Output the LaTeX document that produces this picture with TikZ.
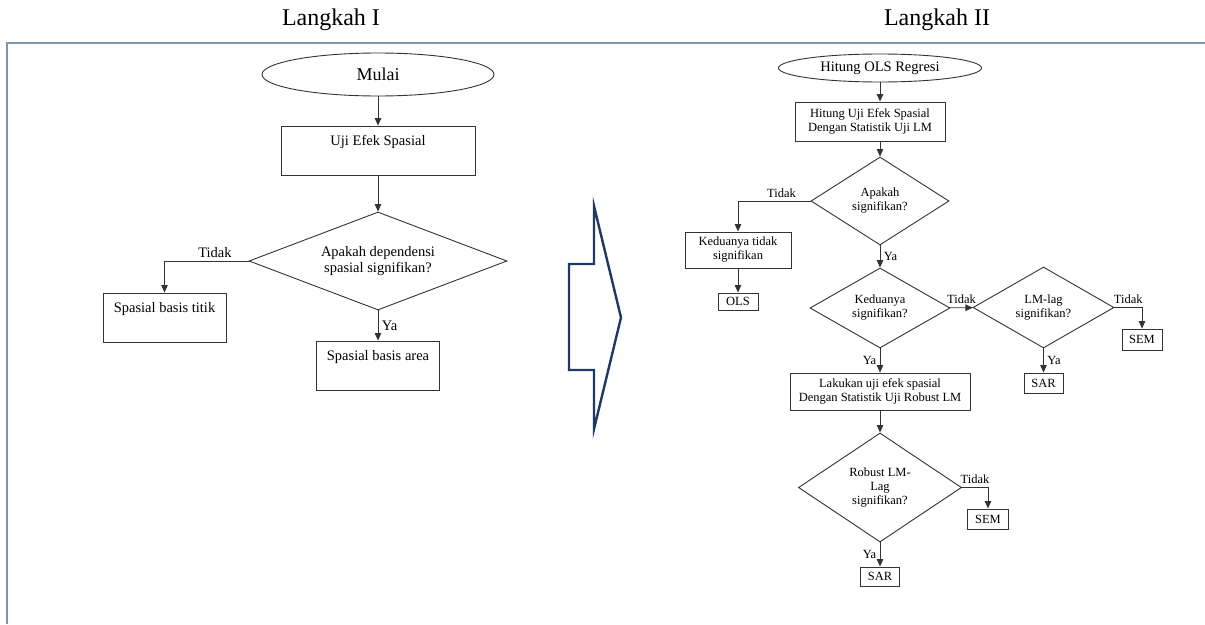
\documentclass[tikz,border=0pt]{standalone}
\usepackage{fontspec}
\setmainfont{Liberation Serif}
\usetikzlibrary{shapes.geometric,arrows.meta}
\definecolor{framegray}{RGB}{132,148,172}
\definecolor{arrownavy}{RGB}{31,56,100}

\begin{document}
\begin{tikzpicture}[x=1pt,y=-1pt]
    \tikzstyle{every node}=[font=\fontsize{12.5}{14}\selectfont]
    \tikzstyle{line}=[draw=black!80,line width=0.9pt]
    \tikzstyle{flow}=[line,-{Triangle[length=7.5pt,width=6.5pt]}]
    \tikzstyle{start}=[line,ellipse,inner sep=0pt]
    \tikzstyle{proc}=[line,rectangle,inner sep=0pt,align=center]
    \tikzstyle{decision}=[line,diamond,inner sep=0pt,align=center]
    \tikzstyle{big}=[font=\fontsize{14.5}{16.5}\selectfont]
    \tikzstyle{tallbox}=[proc,big,text height=19pt,text depth=30pt]
    \tikzstyle{heading}=[font=\fontsize{24}{28}\selectfont]

    \useasboundingbox (0,0) rectangle (1205,624);

    \node[heading] at (331,20) (head1) {Langkah I};
    \node[heading] at (937,20) (head2) {Langkah II};
    \draw[framegray,line width=1.5pt] (7,624) -- (7,43) -- (1205,43);

    % Langkah I
    \node[start,minimum width=232pt,minimum height=43pt,font=\fontsize{18}{20}\selectfont] at (378,74.5) (mulai) {Mulai};
    \node[tallbox,minimum width=194pt] at (378,150.5) (ujiefek) {Uji Efek Spasial};
    \node[decision,big,minimum width=258pt,minimum height=98pt,shape aspect=2.63] at (378,261) (depL) {Apakah dependensi\\spasial signifikan?};
    \node[tallbox,minimum width=123pt] at (164.5,317.5) (titik) {Spasial basis titik};
    \node[tallbox,minimum width=123pt] at (378,365.5) (area) {Spasial basis area};

    \draw[flow] (mulai) -- (ujiefek);
    \draw[flow] (ujiefek) -- (depL);
    \draw[flow] (depL.west) -| (titik.north) node[pos=0.2,above,big] {Tidak};
    \draw[flow] (depL) -- (area) node[midway,right,big] {Ya};

    % panah besar
    \draw[arrownavy,line width=2.4pt,line join=miter] (594,206) -- (594,264) -- (569,264) -- (569,370) -- (594,370) -- (594,429) -- (621,317.5) -- cycle;

    % Langkah II
    \node[start,minimum width=203pt,minimum height=28pt,font=\fontsize{14.5}{16}\selectfont] at (880,68) (olsreg) {Hitung OLS Regresi};
    \node[proc,minimum width=150pt,minimum height=39pt] at (870,121.5) (hitung) {Hitung Uji Efek Spasial\\Dengan Statistik Uji LM};
    \node[decision,minimum width=138pt,minimum height=88pt,shape aspect=1.57] at (880,201) (sigA) {Apakah\\signifikan?};
    \node[proc,minimum width=106pt,minimum height=36pt] at (738,250) (keduaT) {Keduanya tidak\\signifikan};
    \node[proc,minimum width=40pt,minimum height=17pt] at (738,301.5) (ols) {OLS};
    \node[decision,minimum width=140pt,minimum height=80pt,shape aspect=1.75] at (880,308) (sigB) {Keduanya\\signifikan?};
    \node[decision,minimum width=141pt,minimum height=81pt,shape aspect=1.74] at (1043.5,307.5) (lmlag) {LM-lag\\signifikan?};
    \node[proc,minimum width=40pt,minimum height=21pt] at (1142,339.5) (sem1) {SEM};
    \node[proc,minimum width=39pt,minimum height=20pt] at (1043.5,383) (sar1) {SAR};
    \node[proc,minimum width=180pt,minimum height=37pt] at (880,391.5) (robust) {Lakukan uji efek spasial\\Dengan Statistik Uji Robust LM};
    \node[decision,minimum width=163pt,minimum height=109pt,shape aspect=1.5] at (880,487.5) (sigR) {Robust LM-\\Lag\\signifikan?};
    \node[proc,minimum width=41pt,minimum height=20pt] at (988,519) (sem2) {SEM};
    \node[proc,minimum width=39pt,minimum height=19pt] at (880,576.5) (sar2) {SAR};

    \draw[flow] (olsreg) -- (olsreg |- hitung.north);
    \draw[flow] (sigA |- hitung.south) -- (sigA);
    \draw[flow] (sigA.west) -| (keduaT.north) node[pos=0.2,above] {Tidak};
    \draw[flow] (keduaT) -- (ols);
    \draw[flow] (sigA) -- (sigB) node[midway,right] {Ya};
    \draw[flow] (sigB) -- (lmlag) node[midway,above] {Tidak};
    \draw[flow] (lmlag.east) -| (sem1.north) node[pos=0.25,above] {Tidak};
    \draw[flow] (lmlag) -- (sar1) node[midway,right] {Ya};
    \draw[flow] (sigB) -- (robust) node[midway,left] {Ya};
    \draw[flow] (robust) -- (sigR);
    \draw[flow] (sigR.east) -| (sem2.north) node[pos=0.25,above] {Tidak};
    \draw[flow] (sigR) -- (sar2) node[midway,left] {Ya};
\end{tikzpicture}
\end{document}
